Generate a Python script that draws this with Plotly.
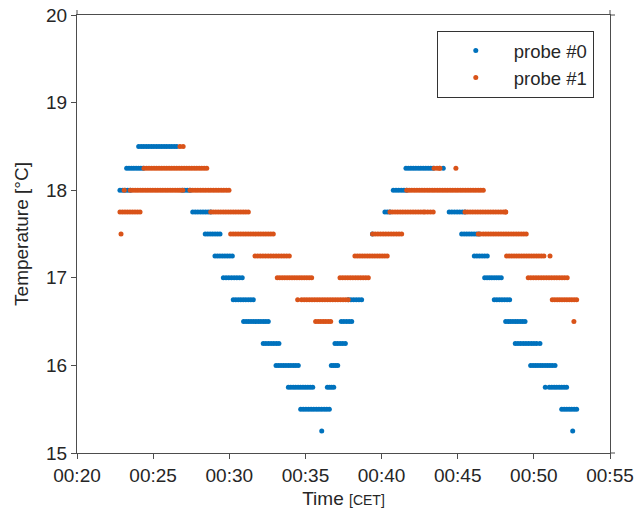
import datetime as dt
import numpy as np
import plotly.graph_objects as go

# Run-length encoded readings: each run holds a constant quantised temperature
# between a start and end time (minutes after midnight, CET).
p0_level = [18.0, 18.25, 18.5, 18.0, 17.75, 17.5, 17.25, 17.0, 16.75, 16.5,
            16.25, 16.0, 15.75, 15.5, 15.25, 15.75, 16.0, 16.25, 16.5, 16.75,
            17.5, 17.75, 18.0, 18.25, 18.25, 17.75, 17.5, 17.25, 17.0, 16.75,
            16.5, 16.25, 16.25, 16.0, 16.0, 15.75, 15.75, 15.5, 15.25]
p0_start = [22.82, 23.26, 24.05, 26.90, 27.60, 28.42, 29.06, 29.61, 30.26, 30.94,
            32.23, 33.07, 33.88, 34.69, 36.07, 36.44, 36.70, 36.94, 37.35, 37.81,
            39.40, 40.22, 40.77, 41.60, 44.05, 44.44, 45.26, 46.09, 46.77, 47.40,
            48.15, 48.78, 50.40, 49.79, 51.39, 50.75, 51.01, 51.83, 52.55]
p0_end = [23.50, 24.35, 26.55, 27.42, 28.78, 29.39, 30.20, 30.85, 31.58, 32.56,
          33.26, 34.53, 35.48, 36.57, 36.07, 36.86, 37.12, 37.62, 38.04, 38.69,
          39.40, 40.55, 41.65, 43.39, 44.05, 45.48, 46.40, 46.94, 47.86, 48.41,
          49.42, 50.18, 50.40, 51.21, 51.39, 50.75, 52.15, 52.81, 52.55]

p1_level = [17.5, 17.75, 18.0, 18.0, 18.25, 18.5, 18.0, 18.0, 17.75, 17.5,
            17.25, 17.0, 16.75, 16.75, 16.5, 17.0, 17.25, 17.5, 17.75, 17.75,
            18.25, 18.0, 17.75, 17.75, 17.5, 17.5, 17.25, 17.25, 17.0, 16.75,
            16.5, 18.25, 18.0, 18.25, 17.75]
p1_start = [22.89, 22.82, 23.10, 23.50, 24.40, 26.76, 26.76, 27.42, 28.78, 30.09,
            31.69, 33.15, 34.49, 34.75, 35.67, 37.27, 38.25, 39.41, 40.55, 42.85,
            43.45, 41.65, 45.48, 48.15, 46.35, 46.68, 48.21, 51.06, 49.63, 51.21,
            52.63, 44.88, 26.95, 43.80, 48.15]
p1_end = [22.89, 24.14, 23.10, 26.61, 28.52, 26.97, 26.76, 29.98, 31.25, 32.89,
          33.94, 35.41, 34.49, 37.81, 36.66, 39.13, 40.37, 41.32, 42.74, 43.39,
          43.83, 46.68, 48.00, 48.15, 46.50, 49.50, 50.66, 51.06, 52.19, 52.81,
          52.63, 44.88, 26.95, 43.80, 48.15]

SAMPLE_MIN = 1.0 / 6.0  # logger interval: 10 s

day0 = dt.datetime(2021, 1, 1)


def decode(levels, starts, ends):
    times, temps = [], []
    for lv, a, b in zip(levels, starts, ends):
        n = max(1, int(round((b - a) / SAMPLE_MIN)) + 1)
        for t in np.linspace(a, b, n):
            times.append(day0 + dt.timedelta(minutes=float(t)))
            temps.append(lv)
    return times, temps


t0, y0 = decode(p0_level, p0_start, p0_end)
t1, y1 = decode(p1_level, p1_start, p1_end)

AX = "#4d4d4d"
TXT = "#262626"
FONT = "Arial, Liberation Sans, sans-serif"

fig = go.Figure()
fig.add_trace(go.Scatter(x=t0, y=y0, mode="markers", name="probe #0",
                         marker=dict(color="#0072BD", size=5)))
fig.add_trace(go.Scatter(x=t1, y=y1, mode="markers", name="probe #1",
                         marker=dict(color="#D95319", size=5)))

# short overhangs of the box edges at the corners
ex, ey = 5 / 533, 5 / 438.6
for x0_, y0_, x1_, y1_ in [(0, 1, 0, 1 + ey), (1, 1, 1, 1 + ey),
                           (1, 1, 1 + ex, 1), (1, 0, 1 + ex, 0)]:
    fig.add_shape(type="line", xref="paper", yref="paper",
                  x0=x0_, y0=y0_, x1=x1_, y1=y1_,
                  line=dict(color=AX, width=1))

fig.update_layout(
    width=637, height=518,
    margin=dict(l=77, r=27, t=15, b=65, autoexpand=False),
    plot_bgcolor="white", paper_bgcolor="white",
    font=dict(family=FONT, size=19, color=TXT),
    showlegend=True,
    legend=dict(x=0.675, y=0.9635, xanchor="left", yanchor="top",
                bordercolor="#333333", borderwidth=1, bgcolor="white",
                font=dict(size=18.5, color=TXT), itemwidth=66,
                tracegroupgap=0),
    xaxis=dict(
        type="date", automargin=False,
        range=[day0 + dt.timedelta(minutes=20), day0 + dt.timedelta(minutes=55)],
        tickformat="%H:%M", dtick=300000,
        tick0=day0 + dt.timedelta(minutes=20),
        showgrid=False, zeroline=False,
        showline=True, mirror=True, linecolor=AX, linewidth=1,
        ticks="outside", ticklen=5, tickcolor=AX,
        tickfont=dict(size=19, color=TXT),
        title=dict(text="Time <span style='font-size:14px'>[CET]</span>",
                   font=dict(size=19, color=TXT), standoff=6),
    ),
    yaxis=dict(
        range=[15, 20], dtick=1, automargin=False,
        showgrid=False, zeroline=False,
        showline=True, mirror=True, linecolor=AX, linewidth=1,
        ticks="outside", ticklen=5, tickcolor=AX,
        tickfont=dict(size=19, color=TXT),
        title=dict(text="Temperature [°C]", font=dict(size=19, color=TXT),
                   standoff=12),
    ),
)

fig.write_html("out.html")
